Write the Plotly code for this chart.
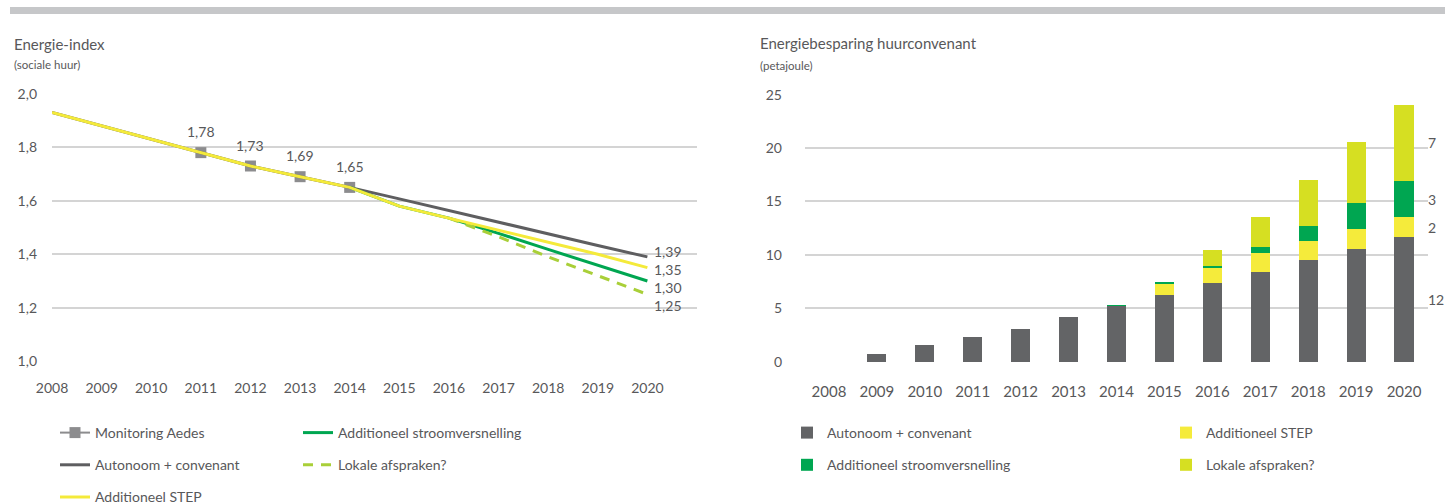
import plotly.graph_objects as go

# ---------------- data ----------------
years = list(range(2008, 2021))

# Left chart: Energie-index (sociale huur)
monitoring_years = [2011, 2012, 2013, 2014]
monitoring_vals = [1.78, 1.73, 1.69, 1.65]

autonoom_idx = [1.93, 1.88, 1.83, 1.78, 1.73, 1.69, 1.65, 1.607, 1.563, 1.52, 1.477, 1.433, 1.39]
step_idx = [1.93, 1.88, 1.83, 1.78, 1.73, 1.69, 1.65, 1.58, 1.535, 1.49, 1.445, 1.40, 1.35]
stroom_years = [2014, 2015, 2016, 2017, 2018, 2019, 2020]
stroom_idx = [1.65, 1.58, 1.535, 1.478, 1.418, 1.358, 1.30]
lokale_years = [2016, 2017, 2018, 2019, 2020]
lokale_idx = [1.535, 1.465, 1.39, 1.32, 1.25]

# Right chart: Energiebesparing huurconvenant (petajoule)
bar_autonoom = [0, 0.75, 1.53, 2.31, 3.09, 4.19, 5.22, 6.2, 7.33, 8.42, 9.51, 10.57, 11.66]
bar_step = [0, 0, 0, 0, 0, 0, 0, 1.1, 1.44, 1.8, 1.79, 1.83, 1.84]
bar_stroom = [0, 0, 0, 0, 0, 0, 0.05, 0.13, 0.21, 0.47, 1.4, 2.43, 3.44]
bar_lokale = [0, 0, 0, 0, 0, 0, 0, 0, 1.5, 2.86, 4.3, 5.72, 7.09]

left_ticks = [1.0, 1.2, 1.4, 1.6, 1.8, 2.0]
right_ticks = [0, 5, 10, 15, 20, 25]

# ---------------- style ----------------
FONT = "Lato"
TXT = "#58585a"
GRID = "#d4d4d4"
C_GREY = "#5e5e60"
C_MON = "#8c8c8e"
C_YEL = "#f4ea3a"
C_GREEN = "#00a651"
C_LIME = "#a9cf38"
B_GREY = "#636466"
B_YEL = "#f5eb3b"
B_GREEN = "#00a651"
B_LIME = "#d6df22"

W, H = 1445, 504


def px_x(p):
    return p / W


def px_y(p):
    return (H - p) / H


def comma(v):
    return f"{v:.2f}".replace(".", ",")


fig = go.Figure()

# ---- left chart traces ----
fig.add_trace(go.Scatter(
    x=monitoring_years, y=monitoring_vals, mode="lines+markers",
    name="Monitoring Aedes", line=dict(color=C_MON, width=2),
    marker=dict(symbol="square", size=11, color=C_MON),
    xaxis="x", yaxis="y", legend="legend", legendgroup="a"))
fig.add_trace(go.Scatter(
    x=years, y=autonoom_idx, mode="lines", name="Autonoom + convenant",
    line=dict(color=C_GREY, width=3), xaxis="x", yaxis="y",
    legend="legend", legendgroup="b"))
fig.add_trace(go.Scatter(
    x=stroom_years, y=stroom_idx, mode="lines", name="Additioneel stroomversnelling",
    line=dict(color=C_GREEN, width=3), xaxis="x", yaxis="y",
    legend="legend2", legendgroup="d"))
fig.add_trace(go.Scatter(
    x=lokale_years, y=lokale_idx, mode="lines", name="Lokale afspraken?",
    line=dict(color=C_LIME, width=3, dash="10px,8px"), xaxis="x", yaxis="y",
    legend="legend2", legendgroup="e"))
fig.add_trace(go.Scatter(
    x=years, y=step_idx, mode="lines", name="Additioneel STEP",
    line=dict(color=C_YEL, width=3), xaxis="x", yaxis="y",
    legend="legend", legendgroup="c"))

# ---- right chart traces ----
bar_specs = [
    ("Autonoom + convenant", bar_autonoom, B_GREY, "legend3", "f"),
    ("Additioneel STEP", bar_step, B_YEL, "legend4", "g"),
    ("Additioneel stroomversnelling", bar_stroom, B_GREEN, "legend3", "h"),
    ("Lokale afspraken?", bar_lokale, B_LIME, "legend4", "i"),
]
for name, vals, col, leg, grp in bar_specs:
    fig.add_trace(go.Bar(
        x=years, y=vals, name=name, marker=dict(color=col, line=dict(width=0)),
        width=0.4, xaxis="x2", yaxis="y2", legend=leg, legendgroup=grp))

annotations = []

# value labels above monitoring markers
for xv, yv in zip(monitoring_years, monitoring_vals):
    annotations.append(dict(
        x=xv, y=yv, xref="x", yref="y", text=comma(yv), showarrow=False,
        yshift=21, font=dict(family=FONT, size=14, color=TXT)))

# end labels of the left lines
end_vals = [autonoom_idx[-1], step_idx[-1], stroom_idx[-1], lokale_idx[-1]]
end_shift = [5, -2, -7, -11]
for v, s in zip(end_vals, end_shift):
    annotations.append(dict(
        x=years[-1], y=v, xref="x", yref="y", text=comma(v), showarrow=False,
        xanchor="left", xshift=5, yshift=s,
        font=dict(family=FONT, size=14, color=TXT)))

# labels next to the 2020 bar
base = 0
for vals in [bar_autonoom, bar_step, bar_stroom, bar_lokale]:
    v = vals[-1]
    annotations.append(dict(
        x=years[-1], y=base + v / 2, xref="x2", yref="y2", text=str(round(v)),
        showarrow=False, xanchor="left", xshift=22,
        font=dict(family=FONT, size=14, color=TXT)))
    base += v

# titles
titles = [
    ("Energie-index", 12, 44, 15),
    ("(sociale huur)", 12, 64.5, 11.5),
    ("Energiebesparing huurconvenant", 758, 43, 15),
    ("(petajoule)", 758, 65.5, 11.5),
]
for t, xp, yp, fs in titles:
    annotations.append(dict(
        x=px_x(xp), y=px_y(yp), xref="paper", yref="paper", text=t,
        showarrow=False, xanchor="left", yanchor="middle",
        font=dict(family=FONT, size=fs, color=TXT)))

leg_common = dict(
    orientation="v", traceorder="grouped", tracegroupgap=11,
    yanchor="top", xanchor="left", bgcolor="rgba(0,0,0,0)",
    font=dict(family=FONT, size=14, color=TXT), itemclick=False,
    itemdoubleclick=False)

fig.update_layout(
    width=W, height=H,
    margin=dict(l=0, r=0, t=0, b=0, pad=0, autoexpand=False),
    paper_bgcolor="white", plot_bgcolor="white",
    separators=",.",
    font=dict(family=FONT, color=TXT),
    barmode="stack",
    showlegend=True,
    xaxis=dict(
        domain=[px_x(52), px_x(697)], range=[2008, 2021],
        tickmode="array", tickvals=years, ticktext=[str(y) for y in years],
        showgrid=False, zeroline=False, showline=False, ticks="",
        ticklabelstandoff=16, tickfont=dict(family=FONT, size=14, color=TXT),
        anchor="y"),
    yaxis=dict(
        domain=[px_y(362), px_y(93)], range=[0.997, 2.003],
        tickmode="array", tickvals=left_ticks, tickformat=".1f",
        showgrid=True, gridcolor=GRID, gridwidth=1.5, zeroline=False,
        showline=False, ticks="", ticklabelstandoff=14,
        tickfont=dict(family=FONT, size=14, color=TXT), anchor="x"),
    xaxis2=dict(
        domain=[px_x(805), px_x(1428)], range=[2007.5, 2020.5],
        tickmode="array", tickvals=years, ticktext=[str(y) for y in years],
        showgrid=False, zeroline=False, showline=False, ticks="",
        ticklabelstandoff=19, tickfont=dict(family=FONT, size=15, color=TXT),
        anchor="y2"),
    yaxis2=dict(
        domain=[px_y(362.3), px_y(94)], range=[-0.06, 25.06],
        tickmode="array", tickvals=right_ticks,
        showgrid=True, gridcolor=GRID, gridwidth=1.5, zeroline=False,
        showline=False, ticks="", ticklabelstandoff=22,
        tickfont=dict(family=FONT, size=14, color=TXT), anchor="x2"),
    legend=dict(x=px_x(55), y=px_y(417), **leg_common),
    legend2=dict(x=px_x(298), y=px_y(417), **leg_common),
    legend3=dict(x=px_x(787), y=px_y(417), **leg_common),
    legend4=dict(x=px_x(1166), y=px_y(417), **leg_common),
    annotations=annotations,
    shapes=[dict(type="rect", xref="paper", yref="paper",
                 x0=px_x(10), x1=1, y0=px_y(14), y1=px_y(7),
                 fillcolor="#c6c7c9", line=dict(width=0), layer="below")],
    hovermode=False,
)

fig.write_html(
    "out.html",
    config={"displayModeBar": False},
    post_script="document.body.style.margin='0';document.body.style.overflow='hidden';",
)
